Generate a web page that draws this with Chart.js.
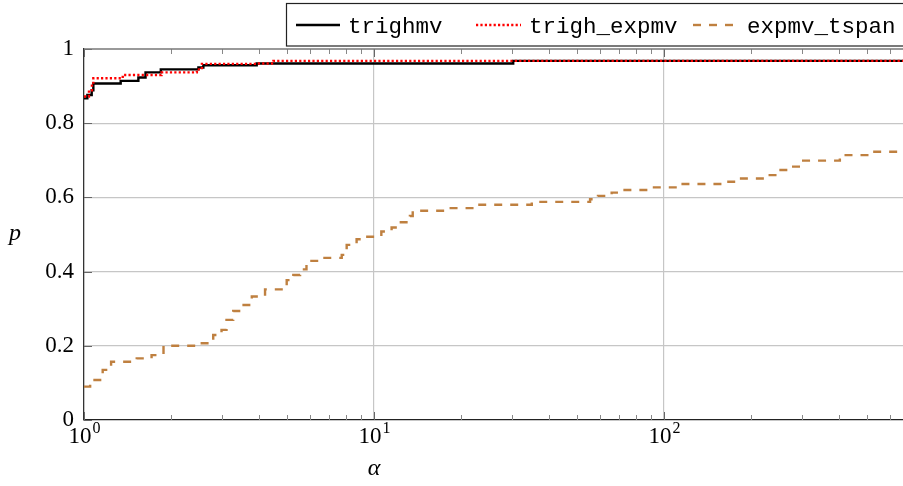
<!DOCTYPE html>
<html lang="en">
<head>
<meta charset="UTF-8">
<title>Performance profile</title>
<script src="https://cdn.jsdelivr.net/npm/chart.js"></script>
<style>
  body { margin: 0; background: #fff; }
  #wrap { width: 903px; height: 486px; position: relative; }
</style>
</head>
<body>
<div id="wrap"><canvas id="profile"></canvas></div>
<script>
// alpha where each curve steps up, and the fraction p reached from there on
const trighmvAlpha = [1, 1.027, 1.063, 1.077, 1.338, 1.54, 1.63, 1.84, 2.48, 2.58, 3.94, 30.2, 667];
const trighmvP     = [0.867, 0.876, 0.889, 0.907, 0.914, 0.923, 0.937, 0.945, 0.950, 0.956, 0.961, 0.968, 0.968];

const trighExpmvAlpha = [1, 1.04, 1.065, 1.077, 1.36, 1.85, 2.45, 2.55, 3.94, 4.5, 667];
const trighExpmvP     = [0.872, 0.889, 0.905, 0.921, 0.930, 0.937, 0.945, 0.960, 0.961, 0.968, 0.968];

const expmvTspanAlpha = [1, 1.05, 1.16, 1.24, 1.52, 1.71, 1.88, 2.48, 2.79, 2.98,
  3.10, 3.27, 3.48, 3.79, 4.21, 5.0, 5.27, 5.56, 5.85, 6.5,
  7.74, 8.05, 8.71, 9.0, 10.6, 11.5, 12.0, 13.3, 13.6, 18.2,
  22.6, 35, 55.6, 59.2, 66, 70.5, 89.5, 113, 164, 178,
  226, 245, 279, 302, 404, 513, 667];
const expmvTspanP = [0.090, 0.108, 0.135, 0.157, 0.166, 0.175, 0.200, 0.207, 0.229, 0.243,
  0.270, 0.294, 0.310, 0.333, 0.352, 0.377, 0.391, 0.406, 0.429, 0.437,
  0.445, 0.472, 0.487, 0.494, 0.508, 0.519, 0.533, 0.550, 0.564, 0.571,
  0.580, 0.588, 0.595, 0.604, 0.613, 0.620, 0.627, 0.636, 0.642, 0.651,
  0.660, 0.674, 0.683, 0.699, 0.714, 0.723, 0.723];

const seriesNames = ['trighmv', 'trigh_expmv', 'expmv_tspan'];
const yTicks = [0, 0.2, 0.4, 0.6, 0.8, 1];
const xDecades = [1, 10, 100];
const xMin = 1, xMax = 667;

const serif = '"Liberation Serif", "DejaVu Serif", serif';
const mono = '"Liberation Mono", "DejaVu Sans Mono", monospace';

function pts(xs, ys) { return xs.map((v, i) => ({ x: v, y: ys[i] })); }

const styles = [
  { color: '#000000', dash: [], width: 2.4 },
  { color: '#ff0000', dash: [2.2, 2.2], width: 2.4 },
  { color: '#bf8040', dash: [8, 8], width: 2.4 }
];

const isDecade = v => Math.abs(Math.log10(v) - Math.round(Math.log10(v))) < 1e-9;

// frame, minor ticks, tick labels with exponents, axis titles and the boxed legend
const decor = {
  id: 'decor',
  afterDraw(chart) {
    const { ctx, chartArea: a, scales: { x, y } } = chart;
    const seg = (x1, y1, x2, y2) => { ctx.beginPath(); ctx.moveTo(x1, y1); ctx.lineTo(x2, y2); ctx.stroke(); };
    ctx.save();

    ctx.strokeStyle = '#888';
    ctx.lineWidth = 1;
    for (let d = 1; d <= 100; d *= 10) {
      for (let k = 2; k <= 9; k++) {
        const v = d * k;
        if (v > xMax) continue;
        const px = Math.round(x.getPixelForValue(v)) + 0.5;
        seg(px, a.top, px, a.top + 5);
        seg(px, a.bottom, px, a.bottom - 5);
      }
    }
    ctx.strokeStyle = '#666';
    xDecades.forEach(v => {
      const px = Math.round(x.getPixelForValue(v)) + 0.5;
      seg(px, a.top, px, a.top + 8);
      seg(px, a.bottom, px, a.bottom - 8);
    });
    yTicks.forEach(v => {
      const py = Math.round(y.getPixelForValue(v)) + 0.5;
      seg(a.left, py, a.left + 8, py);
    });

    // top edge of the axis box
    ctx.strokeStyle = '#777';
    ctx.lineWidth = 1.3;
    seg(a.left, a.top, a.right, a.top);

    // x tick labels 10^k
    ctx.fillStyle = '#000';
    ctx.textBaseline = 'alphabetic';
    ctx.textAlign = 'left';
    xDecades.forEach(v => {
      const exp = String(Math.round(Math.log10(v)));
      ctx.font = '23px ' + serif;
      const w1 = ctx.measureText('10').width;
      ctx.font = '16px ' + serif;
      const w2 = ctx.measureText(exp).width;
      const px = x.getPixelForValue(v);
      const start = px - (w1 + w2) / 2;
      ctx.font = '23px ' + serif;
      ctx.fillText('10', start, 443);
      ctx.font = '16px ' + serif;
      ctx.fillText(exp, start + w1 + 1, 433);
    });

    // axis titles
    ctx.font = 'italic 24px ' + serif;
    ctx.textAlign = 'center';
    ctx.fillText('\u03b1', (x.getPixelForValue(10)), 475);
    ctx.fillText('p', 15, 240);

    // legend
    ctx.fillStyle = '#fff';
    ctx.fillRect(286.5, 3.5, 630, 42.5);
    ctx.strokeStyle = '#222';
    ctx.lineWidth = 1.2;
    ctx.strokeRect(286.5, 3.5, 630, 42.5);
    const items = [
      { x0: 296, x1: 340, tx: 348 },
      { x0: 476, x1: 521, tx: 529 },
      { x0: 693, x1: 736, tx: 747 }
    ];
    ctx.font = '22.5px ' + mono;
    ctx.textAlign = 'left';
    items.forEach((it, i) => {
      const s = styles[i];
      ctx.strokeStyle = s.color;
      ctx.lineWidth = s.width;
      ctx.setLineDash(s.dash);
      seg(it.x0, 25, it.x1, 25);
      ctx.setLineDash([]);
      ctx.fillStyle = '#000';
      ctx.fillText(seriesNames[i], it.tx, 33);
    });
    ctx.restore();
  }
};

const series = [
  pts(trighmvAlpha, trighmvP),
  pts(trighExpmvAlpha, trighExpmvP),
  pts(expmvTspanAlpha, expmvTspanP)
];

new Chart(document.getElementById('profile'), {
  type: 'line',
  data: {
    datasets: series.map((d, i) => ({
      label: seriesNames[i],
      data: d,
      borderColor: styles[i].color,
      borderDash: styles[i].dash,
      borderWidth: styles[i].width,
      pointRadius: 0,
      stepped: true,
      fill: false,
      order: 3 - i
    }))
  },
  options: {
    responsive: true,
    maintainAspectRatio: false,
    animation: false,
    layout: { padding: { top: 49, right: 0, left: 0, bottom: 0 } },
    plugins: { legend: { display: false }, tooltip: { enabled: false } },
    scales: {
      x: {
        type: 'logarithmic',
        min: xMin,
        max: xMax,
        afterFit(scale) { scale.height = 66; },
        ticks: { display: false },
        grid: {
          drawTicks: false,
          lineWidth: 1.2,
          color: c => (c.tick && isDecade(c.tick.value) && c.tick.value > xMin) ? '#c6c6c6' : 'rgba(0,0,0,0)'
        },
        border: { color: '#222', width: 1.3 }
      },
      y: {
        min: 0,
        max: 1,
        afterFit(scale) { scale.width = 84; },
        afterBuildTicks(scale) { scale.ticks = yTicks.map(v => ({ value: v })); },
        ticks: {
          padding: 10,
          color: '#000',
          font: { family: serif, size: 23 },
          callback: v => String(+v.toFixed(1))
        },
        grid: {
          drawTicks: false,
          lineWidth: 1.2,
          color: c => (c.tick && c.tick.value > 0 && c.tick.value < 1) ? '#c6c6c6' : 'rgba(0,0,0,0)'
        },
        border: { color: '#333', width: 1.3 }
      }
    }
  },
  plugins: [decor]
});
</script>
</body>
</html>
